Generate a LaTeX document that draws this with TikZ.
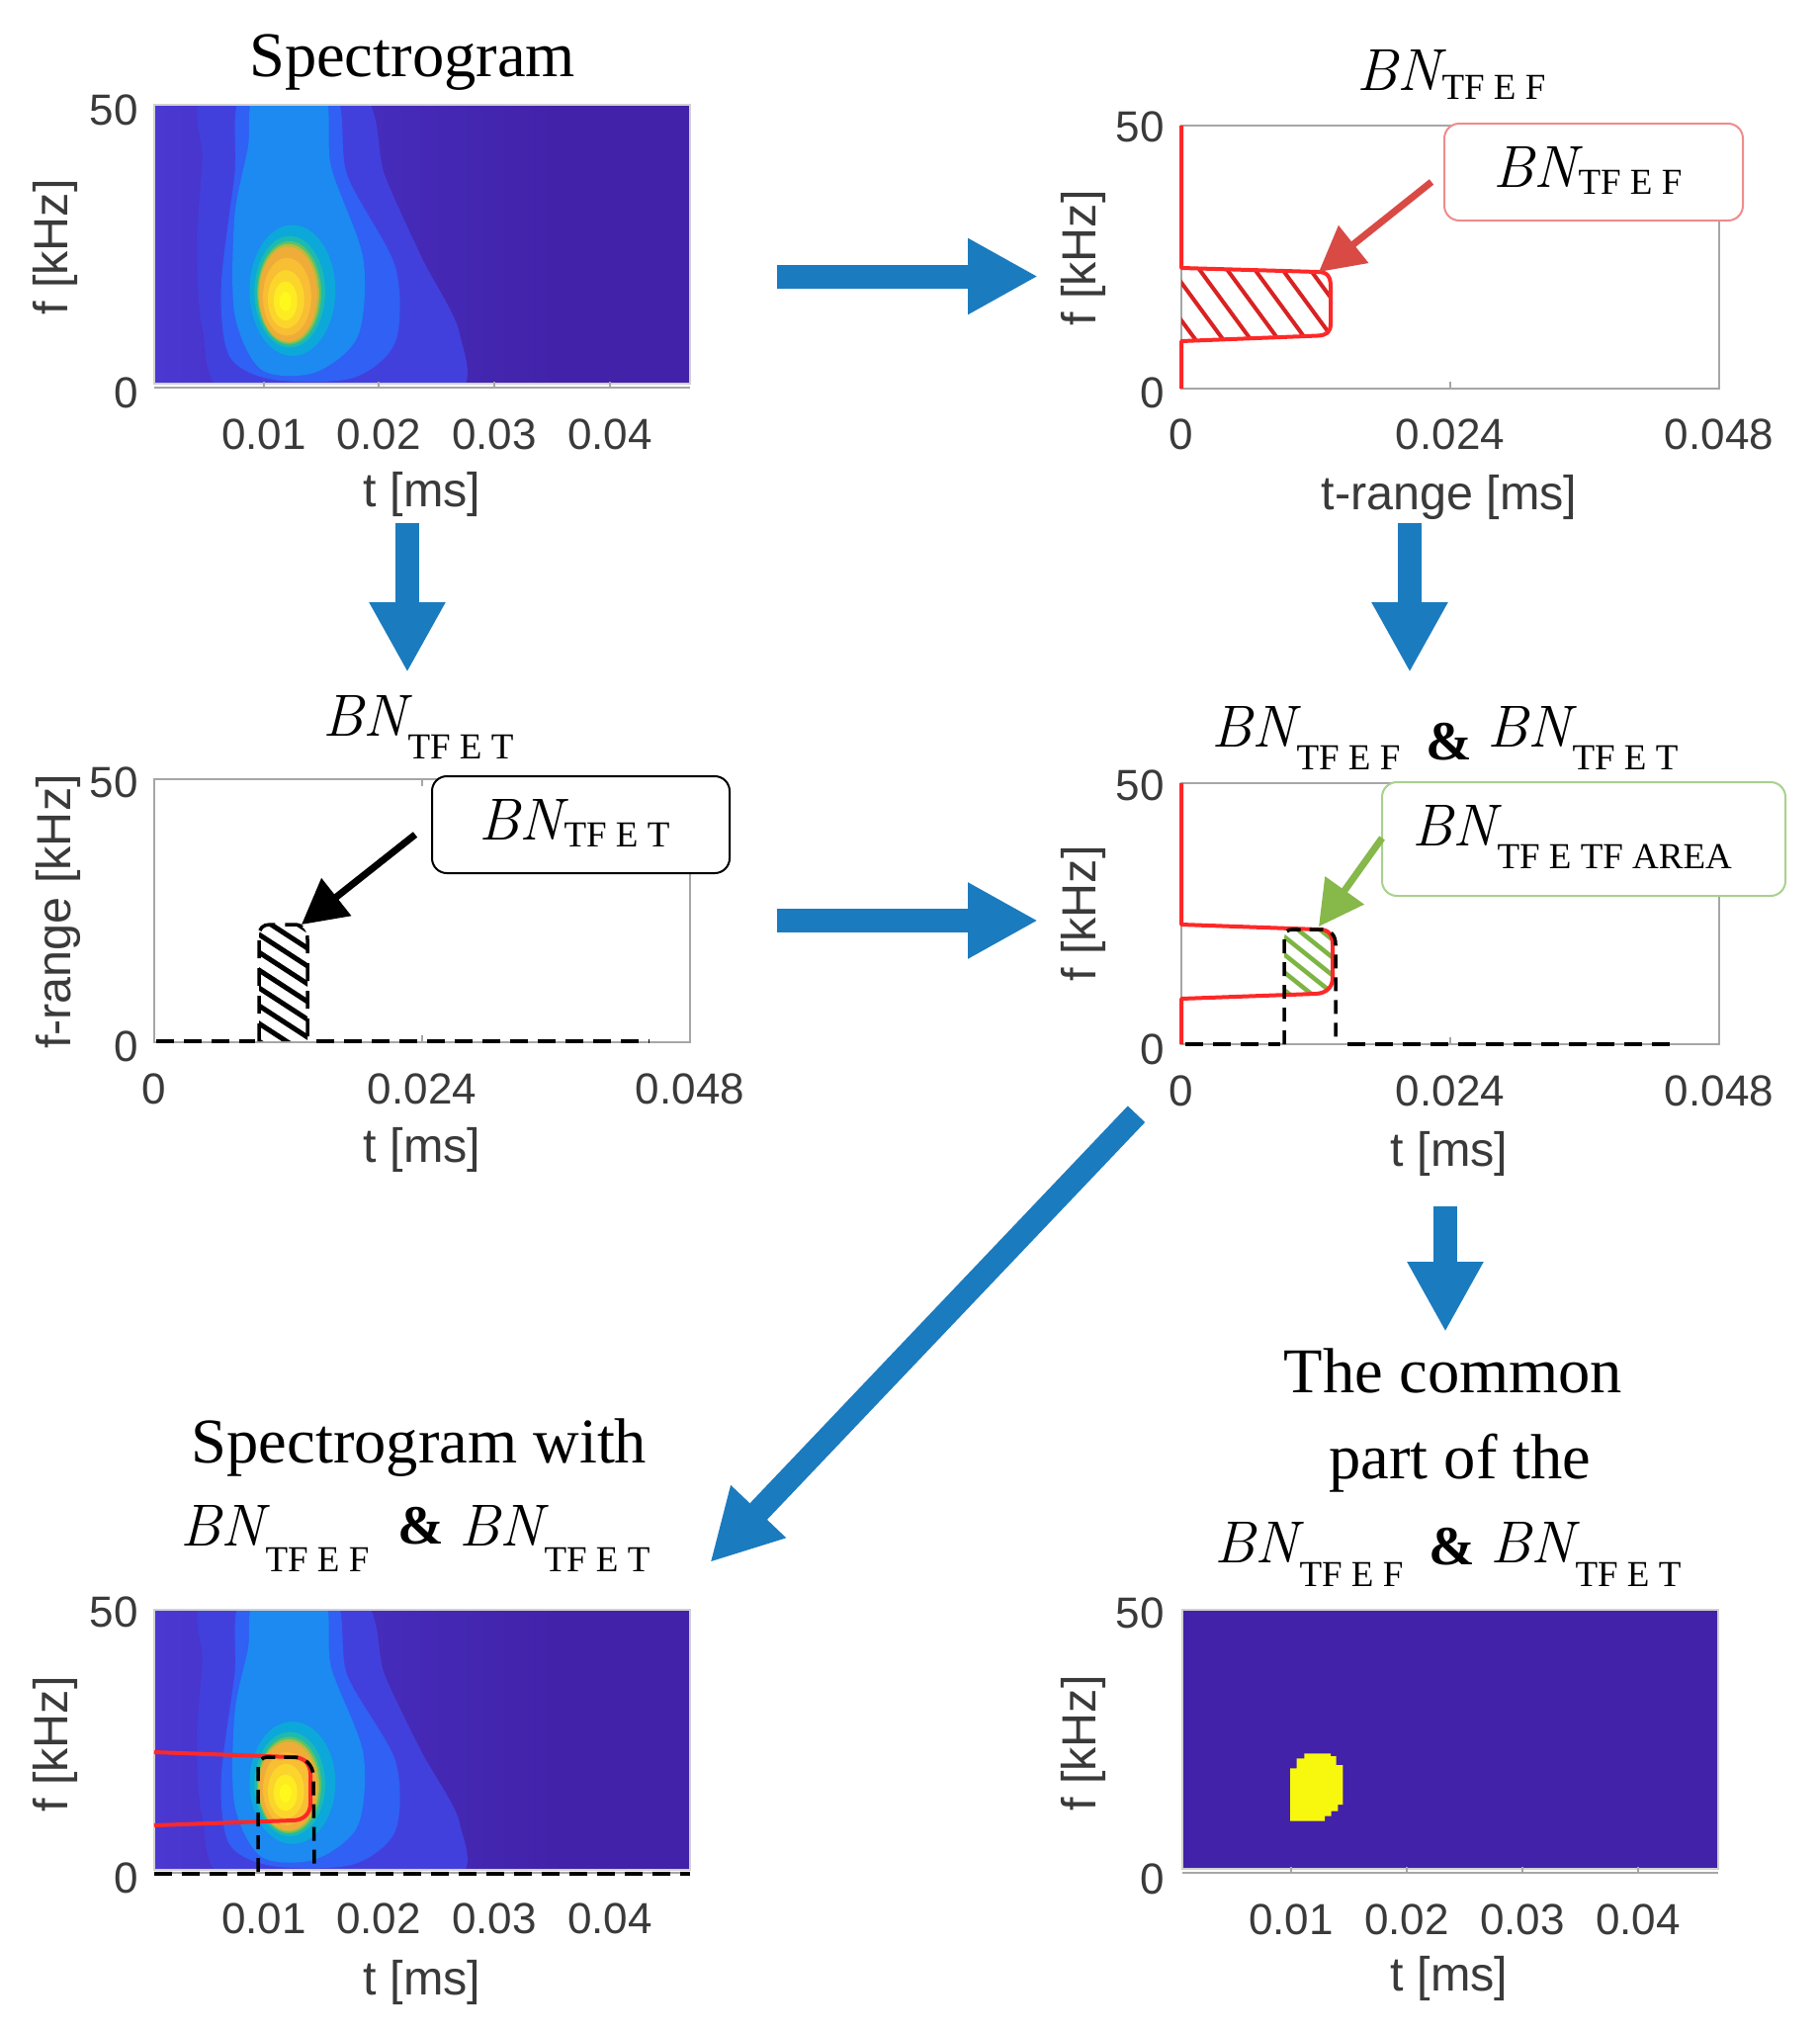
\documentclass[tikz,border=0pt]{standalone}
\usepackage{fontspec}
\setmainfont{Latin Modern Roman}
\newfontfamily\tnr{Liberation Serif}
\newfontfamily\ari{Liberation Sans}
\usetikzlibrary{arrows.meta,calc}
\definecolor{arrblue}{HTML}{1B7BBF}
\definecolor{axgray}{HTML}{A6A6A6}
\definecolor{txtgray}{HTML}{3A3A3A}
\definecolor{mred}{HTML}{FF2828}
\definecolor{calred}{HTML}{D94A45}
\definecolor{calredb}{HTML}{F08C8C}
\definecolor{calgreen}{HTML}{86B84A}
\definecolor{calgreenb}{HTML}{A9D18E}
\definecolor{hgreen}{HTML}{7DB544}
\definecolor{pdark}{HTML}{4222A8}
\definecolor{pleft}{HTML}{4A38D2}
\definecolor{phalo}{HTML}{4240DC}
\definecolor{proyal}{HTML}{3060F4}
\definecolor{pdodger}{HTML}{1C8AF0}
\definecolor{pcyan}{HTML}{0DA8DA}
\definecolor{pteal}{HTML}{1DBAB0}
\definecolor{pgreen}{HTML}{5CC068}
\definecolor{polive}{HTML}{B4BC40}
\definecolor{porange}{HTML}{F0AC38}
\definecolor{pora2}{HTML}{F8BE34}
\definecolor{pyel1}{HTML}{FBD52C}
\definecolor{pyel2}{HTML}{FEEC22}
\definecolor{pyel3}{HTML}{FFF81C}
\definecolor{blobyel}{HTML}{F8F80E}

\newcommand{\drawspectro}{%
  \clip (0,0) rectangle (1,1);
  \fill[pdark] (0,0) rectangle (1,1);
  \shade[left color=pleft, right color=pdark] (0,0) rectangle (0.75,1);
  \fill[phalo] plot[smooth cycle] coordinates {(0.10,1.05) (0.38,1.05) (0.43,0.75) (0.50,0.45) (0.57,0.18) (0.55,-0.05) (0.15,-0.05) (0.09,0.2) (0.08,0.5) (0.09,0.8)};
  \fill[proyal] plot[smooth cycle] coordinates {(0.166,1.05) (0.334,1.05) (0.36,0.75) (0.45,0.42) (0.45,0.15) (0.37,0.02) (0.22,0.015) (0.14,0.10) (0.125,0.35) (0.15,0.75)};
  \fill[pdodger] plot[smooth cycle] coordinates {(0.19,1.05) (0.315,1.05) (0.33,0.78) (0.39,0.45) (0.38,0.17) (0.30,0.04) (0.20,0.05) (0.15,0.25) (0.15,0.6) (0.175,0.85)};
  \fill[pcyan] (0.258,0.335) ellipse [x radius=0.08, y radius=0.235];
  \fill[pteal] (0.253,0.33) ellipse [x radius=0.066, y radius=0.20];
  \fill[pgreen] (0.252,0.326) ellipse [x radius=0.060, y radius=0.186];
  \fill[polive] (0.251,0.324) ellipse [x radius=0.057, y radius=0.178];
  \fill[porange] (0.250,0.322) ellipse [x radius=0.054, y radius=0.170];
  \fill[pora2] (0.248,0.312) ellipse [x radius=0.045, y radius=0.14];
  \fill[pyel1] (0.246,0.303) ellipse [x radius=0.034, y radius=0.105];
  \fill[pyel2] (0.245,0.297) ellipse [x radius=0.022, y radius=0.07];
  \fill[pyel3] (0.245,0.295) ellipse [x radius=0.011, y radius=0.035];
}

\begin{document}
\begin{tikzpicture}[x=1pt,y=-1pt,
  ticklab/.style={font=\ari\fontsize{44}{50}\selectfont, text=txtgray, inner sep=0pt},
  axlab/.style={font=\ari\fontsize{48.5}{56}\selectfont, text=txtgray, inner sep=0pt},
  ttl/.style={font=\tnr\fontsize{64.5}{75}\selectfont, inner sep=0pt, anchor=base},
  bnn/.style={font=\fontsize{60}{70}\selectfont\itshape, inner sep=0pt, anchor=base west},
  sbn/.style={font=\tnr\fontsize{37}{42}\selectfont, inner sep=0pt, anchor=base west},
  amp/.style={font=\tnr\bfseries\fontsize{56}{66}\selectfont, inner sep=0pt, anchor=base west},
  frame/.style={draw=axgray, line width=2pt},
  specframe/.style={draw=black!18, line width=1.2pt},
  axline/.style={draw=axgray, line width=2pt},
  redline/.style={draw=mred, line width=4pt, line join=round},
  redhatch/.style={draw=mred!85!black, line width=4pt},
  blkhatch/.style={draw=black, line width=5pt},
  grnhatch/.style={draw=hgreen, line width=4.5pt},
  blkdash/.style={draw=black, line width=3.5pt, dash pattern=on 18pt off 10pt},
  bigarrow/.style={draw=arrblue, line width=24pt, -{Triangle[length=71pt,width=72pt]}},
  callarrow/.style={draw=#1, line width=7pt, -{Triangle[length=45pt,width=47pt]}},
  callbox/.style={rectangle, rounded corners=15pt, line width=2pt, fill=white, inner sep=0pt}
]
\useasboundingbox[fill=white] (0,0) rectangle (1840,2056);

%================ Panel 1 : Spectrogram
\begin{scope}[xshift=156pt,yshift=-388pt,x=542pt,y=281.5pt]
  \drawspectro
\end{scope}
\draw[specframe] (156,106) rectangle (698,388);
\draw[axline] (156,392) -- (698,392);
\foreach \xx in {267,383,500,617} \draw[axline] (\xx,386) -- (\xx,392);
\node[ttl] (t1) at (417,77) {Spectrogram};
\node[ticklab, anchor=east] (p1y50) at (140,111) {50};
\node[ticklab, anchor=east] (p1y0) at (140,397) {0};
\node[ticklab] (p1x1) at (267,439) {0.01};
\node[ticklab] (p1x2) at (383,439) {0.02};
\node[ticklab] (p1x3) at (500,439) {0.03};
\node[ticklab] (p1x4) at (617,439) {0.04};
\node[axlab] (p1xl) at (427,500) {t [ms]};
\node[axlab, rotate=90] (p1yl) at (56,250) {f [kHz]};

%================ Panel 2 : BN_TFEF
\draw[frame] (1195,127) rectangle (1739,393);
\draw[frame] (1467,127) -- (1467,134) (1467,393) -- (1467,386);
\begin{scope}
  \clip (1195,271) -- (1333,275) .. controls (1343,275) and (1346,280) .. (1346,290) -- (1346,327) .. controls (1346,336) and (1342,339) .. (1333,339.5) -- (1195,345) -- cycle;
  \foreach \k in {0,...,10} \draw[redhatch] (1120+28*\k,260) -- (1193.4+28*\k,360);
\end{scope}
\draw[redline] (1195,127) -- (1195,271) -- (1333,275) .. controls (1343,275) and (1346,280) .. (1346,290) -- (1346,327) .. controls (1346,336) and (1342,339) .. (1333,339.5) -- (1195,345) -- (1195,393);
\node[bnn] (t2bn) at (1372,91) {BN};
\node[sbn] (t2s) at ([xshift=1pt,yshift=-9pt]t2bn.base east) {TF E F};
\node[ticklab, anchor=east] (p2y50) at (1178,128) {50};
\node[ticklab, anchor=east] (p2y0) at (1178,397) {0};
\node[ticklab] (p2x0) at (1195,439) {0};
\node[ticklab] (p2x1) at (1467,439) {0.024};
\node[ticklab] (p2x2) at (1739,439) {0.048};
\node[axlab] (p2xl) at (1466,503) {t-range [ms]};
\node[axlab, rotate=90] (p2yl) at (1096,261) {f [kHz]};
\node[callbox, draw=calredb, minimum width=302pt, minimum height=98pt] (cb2) at (1612,174) {};
\node[bnn] (c2bn) at (1510,189) {BN};
\node[sbn] (c2s) at ([xshift=1pt,yshift=-7pt]c2bn.base east) {TF E F};
\coordinate (c2a) at (1448,184);
\coordinate (h2) at (1334,275);
\draw[callarrow=calred] (c2a) -- (h2);

%================ Panel 3 : BN_TFET
\draw[frame] (156,788) rectangle (698,1054);
\draw[frame] (427,788) -- (427,795) (427,1054) -- (427,1047);
\begin{scope}
  \clip (262,1053) -- (262,946) .. controls (262,939) and (266,935) .. (273,935) -- (298,935) .. controls (306,935) and (311,941) .. (311,950) -- (311,1053) -- cycle;
  \foreach \k in {0,...,11} \draw[blkhatch] (245,880+18*\k) -- (335,938.5+18*\k);
\end{scope}
\draw[blkdash] (262,1053) -- (262,946) .. controls (262,939) and (266,935) .. (273,935) -- (298,935) .. controls (306,935) and (311,941) .. (311,950) -- (311,1053);
\draw[blkdash] (158,1053) -- (258,1053);
\draw[blkdash] (320,1053) -- (657,1053);
\node[bnn] (t3bn) at (326,744) {BN};
\node[sbn] (t3s) at ([xshift=1pt,yshift=-23pt]t3bn.base east) {TF E T};
\node[ticklab, anchor=east] (p3y50) at (140,791) {50};
\node[ticklab, anchor=east] (p3y0) at (140,1058) {0};
\node[ticklab] (p3x0) at (156,1101) {0};
\node[ticklab] (p3x1) at (427,1101) {0.024};
\node[ticklab] (p3x2) at (698,1101) {0.048};
\node[axlab] (p3xl) at (427,1163) {t [ms]};
\node[axlab, rotate=90] (p3yl) at (59,922) {f-range [kHz]};
\node[callbox, draw=black, minimum width=301pt, minimum height=98pt] (cb3) at (587.5,834) {};
\node[bnn] (c3bn) at (484,849) {BN};
\node[sbn] (c3s) at ([xshift=1pt,yshift=-7pt]c3bn.base east) {TF E T};
\coordinate (c3a) at (420,844);
\coordinate (h3) at (305,935);
\draw[callarrow=black] (c3a) -- (h3);

%================ Panel 4 : BN_TFEF & BN_TFET
\draw[frame] (1195,792) rectangle (1739,1056);
\draw[frame] (1467,792) -- (1467,799) (1467,1056) -- (1467,1049);
\begin{scope}
  \clip (1299,1007) -- (1299,949) .. controls (1299,943) and (1302,940) .. (1308,940) -- (1334,940) .. controls (1344,940) and (1348,945) .. (1348,955) -- (1348,989) .. controls (1348,998) and (1342,1004.5) .. (1331,1005) -- cycle;
  \foreach \k in {0,...,8} \draw[grnhatch] (1285,900+18*\k) -- (1365,964+18*\k);
\end{scope}
\draw[redline] (1195,792) -- (1195,935) -- (1334,940) .. controls (1344,940) and (1348,945) .. (1348,955) -- (1348,989) .. controls (1348,998) and (1342,1004.5) .. (1331,1005) -- (1195,1010) -- (1195,1056);
\draw[blkdash, dash pattern=on 14pt off 9pt] (1299,1056) -- (1299,949) .. controls (1299,943) and (1302,940) .. (1308,940) -- (1337,940) .. controls (1346,940) and (1351,946) .. (1351,955) -- (1351,1056);
\draw[blkdash] (1199,1056) -- (1295,1056);
\draw[blkdash] (1363,1056) -- (1695,1056);
\node[bnn] (t4bn1) at (1225,755) {BN};
\node[sbn] (t4s1) at ([xshift=1pt,yshift=-23pt]t4bn1.base east) {TF E F};
\node[amp] (t4amp) at (1442,768) {\&};
\node[bnn] (t4bn2) at (1504,755) {BN};
\node[sbn] (t4s2) at ([xshift=1pt,yshift=-23pt]t4bn2.base east) {TF E T};
\node[ticklab, anchor=east] (p4y50) at (1178,794) {50};
\node[ticklab, anchor=east] (p4y0) at (1178,1061) {0};
\node[ticklab] (p4x0) at (1195,1103) {0};
\node[ticklab] (p4x1) at (1467,1103) {0.024};
\node[ticklab] (p4x2) at (1739,1103) {0.048};
\node[axlab] (p4xl) at (1466,1167) {t [ms]};
\node[axlab, rotate=90] (p4yl) at (1096,924) {f [kHz]};
\node[callbox, draw=calgreenb, minimum width=408pt, minimum height=115pt] (cb4) at (1602,848.5) {};
\node[bnn] (c4bn) at (1428,855) {BN};
\node[sbn] (c4s) at ([xshift=1pt,yshift=-23pt]c4bn.base east) {TF E TF AREA};
\coordinate (c4a) at (1398,847.5);
\coordinate (h4) at (1334,937);
\draw[callarrow=calgreen] (c4a) -- (h4);

%================ Panel 5 : Spectrogram with
\begin{scope}[xshift=156pt,yshift=-1891pt,x=542pt,y=263pt]
  \drawspectro
\end{scope}
\draw[specframe] (156,1628) rectangle (698,1891);
\draw[axline] (156,1894) -- (698,1894);
\draw[redline] (156,1772) -- (296,1777) .. controls (308,1777) and (314,1784) .. (314,1794) -- (314,1824) .. controls (314,1834) and (307,1841) .. (296,1841) -- (156,1846);
\draw[blkdash, dash pattern=on 14pt off 9pt] (261,1893) -- (261,1789) .. controls (261,1782) and (264,1777) .. (271,1777) -- (297,1777) .. controls (309,1777) and (316,1785) .. (317,1795) -- (318,1886);
\draw[blkdash] (156,1895) -- (698,1895);
\node[ttl] (t5a) at (424,1479) {Spectrogram with};
\node[bnn] (t5bn1) at (182,1563) {BN};
\node[sbn] (t5s1) at ([xshift=1pt,yshift=-26pt]t5bn1.base east) {TF E F};
\node[amp] (t5amp) at (402,1561) {\&};
\node[bnn] (t5bn2) at (464,1563) {BN};
\node[sbn] (t5s2) at ([xshift=1pt,yshift=-26pt]t5bn2.base east) {TF E T};
\node[ticklab, anchor=east] (p5y50) at (140,1630) {50};
\node[ticklab, anchor=east] (p5y0) at (140,1899) {0};
\node[ticklab] (p5x1) at (267,1940) {0.01};
\node[ticklab] (p5x2) at (383,1940) {0.02};
\node[ticklab] (p5x3) at (500,1940) {0.03};
\node[ticklab] (p5x4) at (617,1940) {0.04};
\node[axlab] (p5xl) at (427,2005) {t [ms]};
\node[axlab, rotate=90] (p5yl) at (56,1764) {f [kHz]};

%================ Panel 6 : common part
\fill[pdark] (1196,1628) rectangle (1738,1890);
\draw[specframe] (1196,1628) rectangle (1738,1890);
\fill[blobyel] (1319.3,1773.3) -- (1346,1773.3) -- (1346,1776) -- (1351.7,1776) -- (1351.7,1785) -- (1358.3,1785) -- (1358.3,1825) -- (1353.3,1825) -- (1353.3,1831.7) -- (1346.7,1831.7) -- (1346.7,1836.7) -- (1340,1836.7) -- (1340,1841.7) -- (1305,1841.7) -- (1305,1788.3) -- (1311.7,1788.3) -- (1311.7,1778.3) -- (1319.3,1778.3) -- cycle;
\draw[axline] (1196,1894) -- (1738,1894);
\foreach \xx in {1306,1423,1540,1657} \draw[axline] (\xx,1888) -- (\xx,1894);
\node[ttl] (t6a) at (1470,1408) {The common};
\node[ttl] (t6b) at (1477,1495) {part of the};
\node[bnn] (t6bn1) at (1228,1580) {BN};
\node[sbn] (t6s1) at ([xshift=1pt,yshift=-24pt]t6bn1.base east) {TF E F};
\node[amp] (t6amp) at (1445,1582) {\&};
\node[bnn] (t6bn2) at (1507,1580) {BN};
\node[sbn] (t6s2) at ([xshift=1pt,yshift=-24pt]t6bn2.base east) {TF E T};
\node[ticklab, anchor=east] (p6y50) at (1178,1631) {50};
\node[ticklab, anchor=east] (p6y0) at (1178,1900) {0};
\node[ticklab] (p6x1) at (1306,1941) {0.01};
\node[ticklab] (p6x2) at (1423,1941) {0.02};
\node[ticklab] (p6x3) at (1540,1941) {0.03};
\node[ticklab] (p6x4) at (1657,1941) {0.04};
\node[axlab] (p6xl) at (1466,2001) {t [ms]};
\node[axlab, rotate=90] (p6yl) at (1096,1763) {f [kHz]};

%================ Blue process arrows
\coordinate (a1s) at (786,279.5);   \coordinate (a1e) at (1050,279.5);
\coordinate (a2s) at (412,529);     \coordinate (a2e) at (412,680);
\coordinate (a3s) at (1426,529);    \coordinate (a3e) at (1426,680);
\coordinate (a4s) at (786,931);     \coordinate (a4e) at (1050,931);
\coordinate (a5s) at (1462,1220);   \coordinate (a5e) at (1462,1347);
\coordinate (a6s) at (1149.5,1126.7); \coordinate (a6e) at (718.3,1580);
\draw[bigarrow] (a1s) -- (a1e);
\draw[bigarrow] (a2s) -- (a2e);
\draw[bigarrow] (a3s) -- (a3e);
\draw[bigarrow] (a4s) -- (a4e);
\draw[bigarrow] (a5s) -- (a5e);
\draw[bigarrow] (a6s) -- (a6e);
\end{tikzpicture}
\end{document}
